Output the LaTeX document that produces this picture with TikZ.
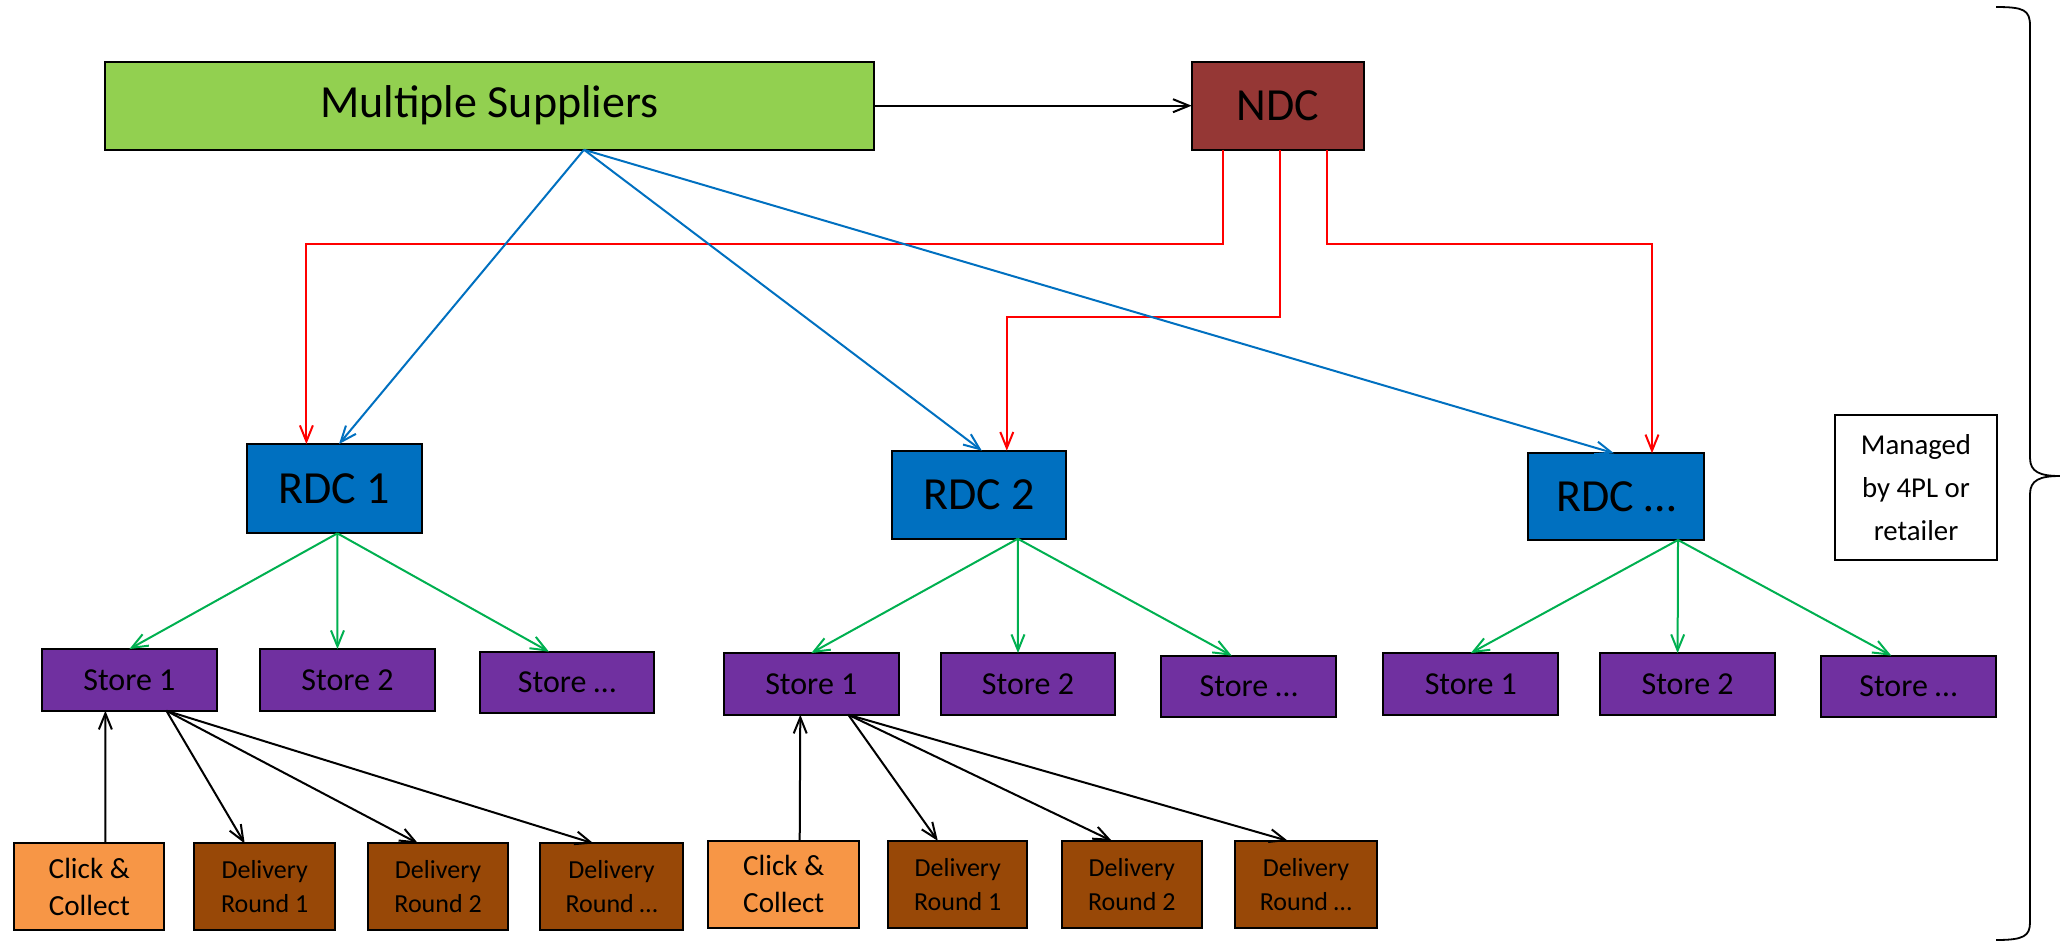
\documentclass[tikz,border=0pt]{standalone}
\usepackage{fontspec}
\setmainfont{Carlito}
\usetikzlibrary{arrows.meta,calc}
\definecolor{msgreen}{HTML}{92D050}
\definecolor{ndcred}{HTML}{953735}
\definecolor{rdcblue}{HTML}{0070C0}
\definecolor{storepurple}{HTML}{7030A0}
\definecolor{ccorange}{HTML}{F79646}
\definecolor{drbrown}{HTML}{984807}
\definecolor{flowgreen}{HTML}{00B050}
\definecolor{flowblue}{HTML}{0070C0}
\definecolor{flowred}{HTML}{FF0000}
\tikzset{
  box/.style 2 args={draw=black, line width=1pt, inner sep=0pt, outer sep=0pt,
    minimum width=#1*0.5pt, minimum height=#2*0.5pt, text=black, align=center},
  bigtxt/.style={font=\fontsize{23}{28}\selectfont},
  storetxt/.style={font=\fontsize{16}{20}\selectfont},
  cctxt/.style={font=\fontsize{14.6}{18.5}\selectfont},
  drtxt/.style={font=\fontsize{13}{17}\selectfont},
  notetxt/.style={font=\fontsize{14.4}{21.5}\selectfont},
  storebox/.style={box={174.7}{61.7}, fill=storepurple, storetxt},
  ccbox/.style={box={#1}{86.7}, fill=ccorange, cctxt},
  drbox/.style={box={#1}{86.7}, fill=drbrown, drtxt},
  link/.style={line width=1pt, -{Straight Barb[length=8pt,width=6.5pt]}},
  redlink/.style={link, draw=flowred},
  bluelink/.style={link, draw=flowblue},
  greenlink/.style={link, draw=flowgreen},
  blacklink/.style={link, draw=black},
}
\begin{document}
\begin{tikzpicture}[x=0.5pt,y=-0.5pt]
\useasboundingbox (0,0) rectangle (2060,944);

% top level
\node[box={768.6}{88.1}, fill=msgreen, bigtxt] (ms) at (489.4,105.7) {Multiple Suppliers};
\node[box={172.1}{88.1}, fill=ndcred, bigtxt] (ndc) at (1277.7,105.7) {NDC};

% regional distribution centres
\node[box={174.7}{89.3}, fill=rdcblue, bigtxt] (rdc1) at (334.4,488.7) {RDC 1};
\node[box={173.4}{88.1}, fill=rdcblue, bigtxt] (rdc2) at (978.8,494.7) {RDC 2};
\node[box={176}{86.7}, fill=rdcblue, bigtxt] (rdc3) at (1616,496.6) {RDC …};

% stores
\node[storebox] (s1a) at (129.4,679.9) {Store 1};
\node[storebox] (s2a) at (347.5,679.9) {Store 2};
\node[storebox] (s3a) at (566.9,682.5) {Store …};
\node[storebox] (s1b) at (811.3,683.9) {Store 1};
\node[storebox] (s2b) at (1028,683.9) {Store 2};
\node[storebox] (s3b) at (1248.7,686.5) {Store …};
\node[storebox] (s1c) at (1470.8,683.9) {Store 1};
\node[storebox] (s2c) at (1687.6,683.9) {Store 2};
\node[storebox] (s3c) at (1908.3,686.5) {Store …};

% last mile
\node[ccbox=149.8] (cca) at (89.3,886.8) {Click \&\\Collect};
\node[drbox=140.6] (dr1a) at (264.7,886.8) {Delivery\\Round 1};
\node[drbox=140.6] (dr2a) at (438.1,886.8) {Delivery\\Round 2};
\node[drbox=143] (dr3a) at (611.6,886.8) {Delivery\\Round …};
\node[ccbox=151] (ccb) at (783.7,884.2) {Click \&\\Collect};
\node[drbox=139.3] (dr1b) at (957.8,884.2) {Delivery\\Round 1};
\node[drbox=140.6] (dr2b) at (1131.8,884.2) {Delivery\\Round 2};
\node[drbox=142] (dr3b) at (1305.9,884.2) {Delivery\\Round …};

% note
\node[box={162}{144.5}, fill=white, notetxt] (note) at (1916,487.4) {Managed\\by 4PL or\\retailer};

% suppliers to NDC
\draw[blacklink] (ms.east) -- (ndc.west);

% NDC to RDCs
\draw[redlink] ($(ndc.south)+(-55,0)$) -- ++(0,94.6) -| ($(rdc1.north)+(-28,0)$);
\draw[redlink] ($(ndc.south)+(2,0)$) -- ++(0,167) -| ($(rdc2.north)+(28,0)$);
\draw[redlink] ($(ndc.south)+(49,0)$) -- ++(0,94.6) -| ($(rdc3.north)+(36,0)$);

% suppliers direct to RDCs
\coordinate (src) at ($(ms.south)+(94.6,0)$);
\draw[bluelink] (src) -- ($(rdc1.north)+(4.6,0)$);
\draw[bluelink] (src) -- ($(rdc2.north)+(3,0)$);
\draw[bluelink] (src) -- ($(rdc3.north)+(-2,0)$);

% RDCs to stores
\draw[greenlink] ($(rdc1.south)+(3,0)$) coordinate (g1) -- (s1a.north);
\draw[greenlink] (g1) -- ($(s2a.north)+(-10,0)$);
\draw[greenlink] (g1) -- ($(s3a.north)+(-18,0)$);
\draw[greenlink] ($(rdc2.south)+(39,0)$) coordinate (g2) -- (s1b.north);
\draw[greenlink] (g2) -- ($(s2b.north)+(-10,0)$);
\draw[greenlink] (g2) -- ($(s3b.north)+(-17,0)$);
\draw[greenlink] ($(rdc3.south)+(62,0)$) coordinate (g3) -- (s1c.north);
\draw[greenlink] (g3) -- ($(s2c.north)+(-10,0)$);
\draw[greenlink] (g3) -- ($(s3c.north)+(-17,0)$);

% stores to last mile
\draw[blacklink] ($(cca.north)+(16,0)$) -- ($(s1a.south)+(-24,0)$);
\draw[blacklink] ($(s1a.south)+(37,0)$) coordinate (k1) -- ($(dr1a.north)+(-20,0)$);
\draw[blacklink] (k1) -- ($(dr2a.north)+(-20,0)$);
\draw[blacklink] (k1) -- ($(dr3a.north)+(-18,0)$);
\draw[blacklink] ($(ccb.north)+(16,0)$) -- ($(s1b.south)+(-11,0)$);
\draw[blacklink] ($(s1b.south)+(37,0)$) coordinate (k2) -- ($(dr1b.north)+(-20,0)$);
\draw[blacklink] (k2) -- ($(dr2b.north)+(-20,0)$);
\draw[blacklink] (k2) -- ($(dr3b.north)+(-18,0)$);

% brace on the right
\draw[line width=0.9pt] (1996,7) .. controls (2024,7) and (2030,10) .. (2030,26)
  -- (2030,458) .. controls (2030,472) and (2040,476) .. (2060,476)
  .. controls (2040,476) and (2030,480) .. (2030,494)
  -- (2030,922) .. controls (2030,936) and (2024,940) .. (1996,940);
\end{tikzpicture}
\end{document}
